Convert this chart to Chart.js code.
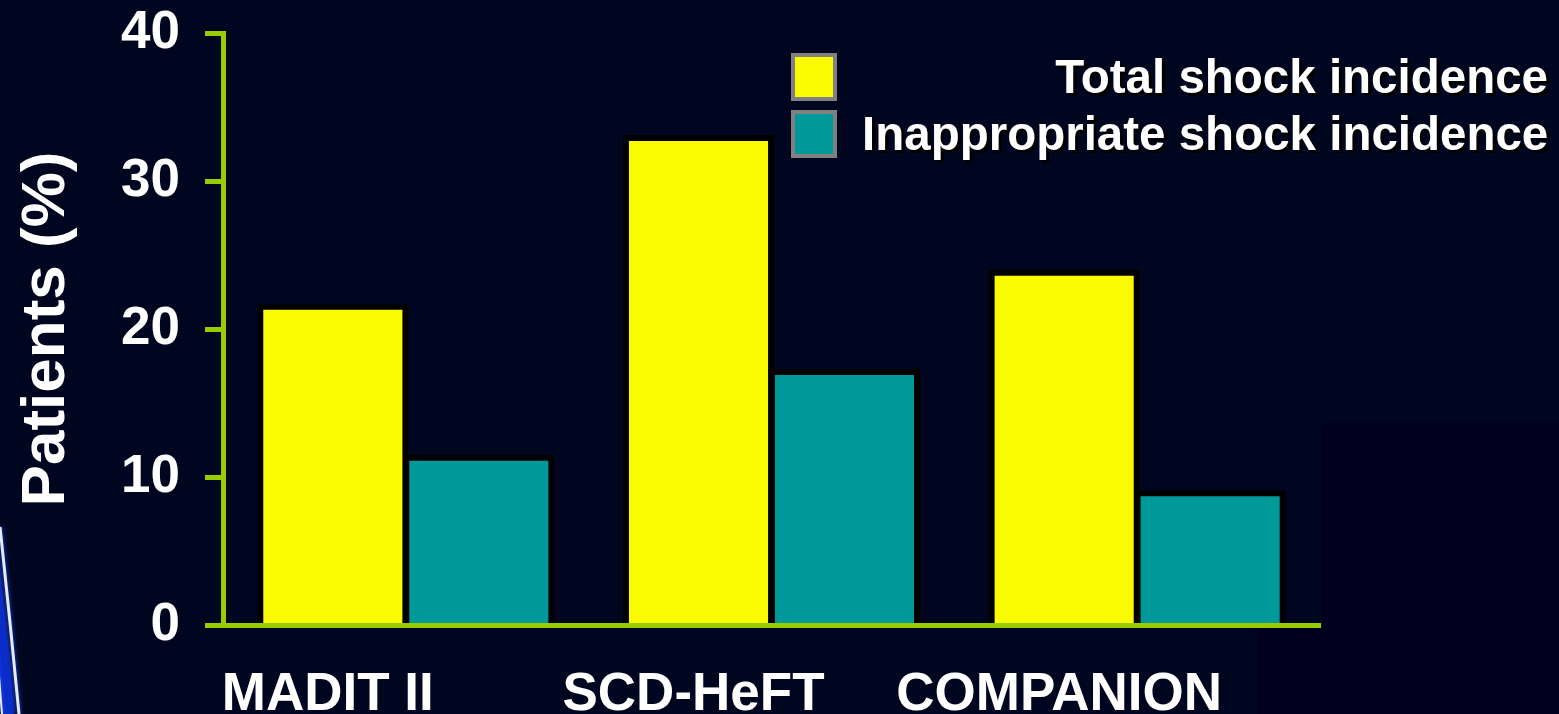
<!DOCTYPE html>
<html>
<head>
<meta charset="utf-8">
<script src="https://cdn.jsdelivr.net/npm/chart.js@4.4.1/dist/chart.umd.min.js"></script>
<style>
  html, body { margin: 0; padding: 0; background: #00061f; overflow: hidden; }
  #wrap { position: relative; width: 1559px; height: 714px; }
  #legend {
    position: absolute; left: 791px; top: 48px;
    font: bold 47.5px "Liberation Sans", Arial, sans-serif; color: #fff;
  }
  #legend .row { display: flex; align-items: center; height: 57px; }
  #legend .box { width: 46px; height: 48px; box-sizing: border-box; border: 4px solid #808080; }
  #legend .txt { width: 686px; margin-left: 25px; text-align: right; white-space: nowrap; text-shadow: 3px 3px 0 #000; }
</style>
</head>
<body>
<div id="wrap">
  <canvas id="shocks"></canvas>
  <div id="legend"></div>
</div>
<script>
// shock incidence by trial (% of patients)
const studies = ['MADIT II', 'SCD-HeFT', 'COMPANION'];
const totalShock = [21.7, 33.1, 24.0];
const inappropriateShock = [11.5, 17.3, 9.1];
const seriesNames = ['Total shock incidence', 'Inappropriate shock incidence'];

const AXIS_GREEN = '#99cc00';
const FONT = '"Liberation Sans", Arial, sans-serif';

Chart.defaults.font.family = FONT;
Chart.defaults.font.weight = 'bold';
Chart.defaults.color = '#ffffff';

// slide backdrop: navy fill, darker panel bottom right, blue swoosh at the left edge
const slideBackdrop = {
  id: 'slideBackdrop',
  beforeDraw(chart) {
    const { ctx, width, height, chartArea } = chart;
    ctx.save();
    ctx.fillStyle = '#00061f';
    ctx.fillRect(0, 0, width, height);

    ctx.fillStyle = '#00001e';
    ctx.beginPath();
    ctx.moveTo(chartArea.right + 2, 423);
    ctx.lineTo(width, 423);
    ctx.lineTo(width, height);
    ctx.lineTo(1258, height);
    ctx.lineTo(1258, chartArea.bottom + 3);
    ctx.lineTo(chartArea.right + 2, chartArea.bottom + 3);
    ctx.closePath();
    ctx.fill();

    ctx.shadowColor = '#1f4dff';
    ctx.shadowBlur = 4;
    ctx.strokeStyle = '#0a2cc8';
    ctx.lineWidth = 12;
    ctx.beginPath();
    ctx.moveTo(-8, 560);
    ctx.quadraticCurveTo(2, 640, 8, height);
    ctx.stroke();

    ctx.strokeStyle = '#e6ebff';
    ctx.lineWidth = 3;
    ctx.beginPath();
    ctx.moveTo(0, 527);
    ctx.quadraticCurveTo(10, 620, 19, height);
    ctx.stroke();
    ctx.lineWidth = 2;
    ctx.beginPath();
    ctx.moveTo(-3, 650);
    ctx.lineTo(2, height);
    ctx.stroke();
    ctx.restore();
  }
};

// legend as html: boxes on the left, labels flush right
const htmlLegend = {
  id: 'htmlLegend',
  afterUpdate(chart) {
    const el = document.getElementById('legend');
    el.innerHTML = '';
    const items = chart.options.plugins.legend.labels.generateLabels(chart);
    items.forEach(item => {
      const row = document.createElement('div');
      row.className = 'row';
      const box = document.createElement('span');
      box.className = 'box';
      box.style.background = item.fillStyle;
      const txt = document.createElement('span');
      txt.className = 'txt';
      txt.textContent = item.text;
      row.appendChild(box);
      row.appendChild(txt);
      el.appendChild(row);
    });
  }
};

new Chart(document.getElementById('shocks'), {
  type: 'bar',
  data: {
    labels: studies,
    datasets: [
      {
        label: seriesNames[0],
        data: totalShock,
        backgroundColor: '#fafa00',
        borderColor: '#000000',
        borderWidth: 6
      },
      {
        label: seriesNames[1],
        data: inappropriateShock,
        backgroundColor: '#009999',
        borderColor: '#000000',
        borderWidth: 6
      }
    ]
  },
  options: {
    responsive: true,
    maintainAspectRatio: false,
    animation: false,
    categoryPercentage: 0.7985,
    barPercentage: 1.035,
    layout: { padding: { top: 33, right: 239, bottom: 0, left: 0 } },
    plugins: {
      legend: { display: false },
      tooltip: { enabled: false }
    },
    scales: {
      x: {
        grid: { display: false, drawTicks: false },
        border: { color: AXIS_GREEN, width: 5, z: 1 }, // baseline sits over the bar feet
        ticks: {
          font: { size: 53, weight: 'bold' },
          color: '#ffffff',
          padding: 39,
          labelOffset: -78,
          maxRotation: 0
        },
        afterFit: s => { s.height = 89; }
      },
      y: {
        min: 0,
        max: 40,
        ticks: {
          stepSize: 10,
          font: { size: 53, weight: 'bold' },
          color: '#ffffff',
          padding: 25
        },
        grid: {
          drawOnChartArea: false,
          drawTicks: true,
          tickLength: 18,
          tickWidth: 5,
          tickColor: AXIS_GREEN
        },
        border: { color: AXIS_GREEN, width: 5, z: 1 },
        title: {
          display: true,
          text: 'Patients (%)',
          color: '#ffffff',
          font: { size: 62, weight: 'bold' },
          padding: { top: 10 }
        },
        afterFit: s => {
          s.width = 223;
          s.paddingTop = 0;
          s.paddingBottom = 0;
        }
      }
    }
  },
  plugins: [slideBackdrop, htmlLegend]
});
</script>
</body>
</html>
